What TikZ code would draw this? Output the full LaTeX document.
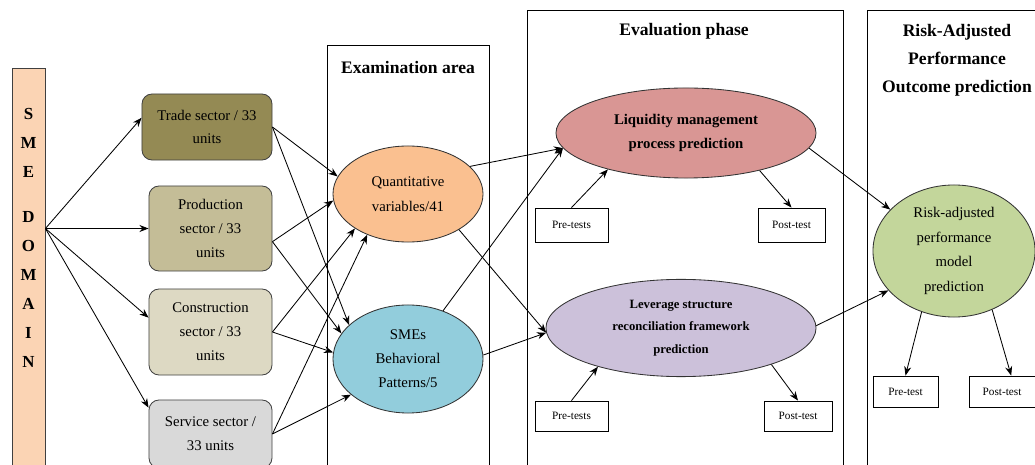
\documentclass[tikz,border=0pt]{standalone}
\usepackage{fontspec}
\setmainfont{Liberation Serif}
\usetikzlibrary{shapes.geometric}
\usetikzlibrary{arrows.meta}
\usetikzlibrary{positioning}

\definecolor{peach}{HTML}{FBD4B4}
\definecolor{olive}{HTML}{948A54}
\definecolor{tan}{HTML}{C4BD97}
\definecolor{lighttan}{HTML}{DDD9C3}
\definecolor{lightgray}{HTML}{D9D9D9}
\definecolor{apricot}{HTML}{FAC090}
\definecolor{aqua}{HTML}{92CDDC}
\definecolor{rose}{HTML}{D99694}
\definecolor{lilac}{HTML}{CCC1DA}
\definecolor{lime}{HTML}{C3D69B}

\begin{document}
\begin{tikzpicture}[x=0.025cm,y=-0.025cm,>={Stealth[length=6.5pt,width=5pt]},line width=0.6pt]
\tikzstyle{sector}=[draw=black!75,rounded corners=0.25cm,inner sep=0pt,align=center,font=\fontsize{10.5}{17}\selectfont]
\tikzstyle{oval}=[draw=black!80,ellipse,inner sep=0pt,align=center]
\tikzstyle{test}=[draw,inner sep=0pt,font=\fontsize{8}{9}\selectfont]
\tikzstyle{head}=[align=center,font=\fontsize{12.5}{20}\selectfont\bfseries]
\useasboundingbox (0,0) rectangle (1035,465);

% frames of the three stages
\draw (327,45) rectangle (489,475);
\draw (527,10) rectangle (843,475);
\draw (867,10) rectangle (1045,475);
\node[head]	(exam)	at (408,67)		{Examination area};
\node[head]	(eval)	at (684,31)		{Evaluation phase};
\node[head]	(rap)	at (957,60)		{Risk-Adjusted\\Performance\\Outcome prediction};

% domain bar
\node[draw=black!75,fill=peach,minimum width=0.825cm,minimum height=10.5cm,anchor=north,inner sep=0pt]	(bar)	at (28.5,68)	{};
\node[anchor=north,inner sep=0pt,align=center,font=\fontsize{12}{20.6}\selectfont\bfseries]	(sme)	at (28.5,108)
	{S\\M\\E\\[11.4pt]D\\O\\M\\A\\I\\N};

% sectors
\node[sector,fill=olive,minimum width=3.25cm,minimum height=1.65cm]		(trade)	at (207,127)	{Trade sector / 33\\units};
\node[sector,fill=tan,minimum width=3.075cm,minimum height=2.125cm]		(prod)	at (210.5,228.5)	{Production\\sector / 33\\units};
\node[sector,fill=lighttan,minimum width=3.075cm,minimum height=2.15cm]	(cons)	at (210.5,332)	{Construction\\sector / 33\\units};
\node[sector,fill=lightgray,minimum width=3.075cm,minimum height=1.7cm]	(serv)	at (210.5,434)	{Service sector /\\33 units};
\coordinate (src) at (bar.east |- prod.west);

% examination area
\node[oval,fill=apricot,minimum width=3.75cm,minimum height=2.4cm,font=\fontsize{10.5}{17.7}\selectfont]	(quant)	at (408,194)	{Quantitative\\variables/41};
\node[oval,fill=aqua,minimum width=3.75cm,minimum height=2.7cm,font=\fontsize{10.5}{17}\selectfont]	(smes)	at (408,359)	{SMEs\\Behavioral\\Patterns/5};

% evaluation phase
\node[oval,fill=rose,minimum width=6.5cm,minimum height=2.25cm,font=\fontsize{10.5}{17}\selectfont\bfseries]	(liq)	at (686,133)	{Liquidity management\\process prediction};
\node[oval,fill=lilac,minimum width=6.75cm,minimum height=2.43cm,font=\fontsize{9}{16}\selectfont\bfseries]	(lev)	at (681,328)	{Leverage structure\\reconciliation framework\\prediction};
\node[test,minimum width=1.825cm,minimum height=0.85cm]	(pre1)	at (571.5,225)	{Pre-tests};
\node[test,minimum width=1.675cm,minimum height=0.85cm]	(post1)	at (791.5,225)	{Post-test};
\node[test,minimum width=1.825cm,minimum height=0.75cm]	(pre2)	at (571.5,416)	{Pre-tests};
\node[test,minimum width=1.7cm,minimum height=0.75cm]	(post2)	at (798,416)	{Post-test};

% outcome
\node[oval,fill=lime,minimum width=4.05cm,minimum height=3.3cm,font=\fontsize{10.5}{17.4}\selectfont]	(risk)	at (954,251)	{Risk-adjusted\\performance\\model\\prediction};
\node[test,minimum width=1.625cm,minimum height=0.775cm]	(pre3)	at (905.5,391.5)	{Pre-test};
\node[test,minimum width=1.65cm,minimum height=0.775cm]	(post3)	at (1002,391.5)	{Post-test};

\path[->]
	 (src)		edge	(trade.172)
	 (src)		edge	(prod.west)
	 (src)		edge	(cons.167)
	 (src)		edge	(serv.157)
	 (trade.east)	edge	(quant.166)
	 (trade.east)	edge	(smes.150)
	 (prod.-12)	edge	(quant.185)
	 (prod.-12)	edge	(smes.159)
	 (cons.east)	edge	(quant.213)
	 (cons.east)	edge	(smes.175)
	 (serv.east)	edge	(quant.225)
	 (serv.east)	edge	(smes.212)
	 (quant.24)	edge	(liq.187)
	 (smes.54)	edge	(liq.187)
	 (quant.325)	edge	(lev.182)
	 (smes.3)	edge	(lev.182)
	 (pre1.north)	edge	(liq.205)
	 (liq.333)	edge	(post1.north)
	 (pre2.north)	edge	(lev.205)
	 (lev.338)	edge	(post2.north)
	 (liq.353)	edge	(risk.147)
	 (lev.1)	edge	(risk.211)
	 (risk.242)	edge	(pre3.north)
	 (risk.303)	edge	(post3.60);
\end{tikzpicture}
\end{document}
